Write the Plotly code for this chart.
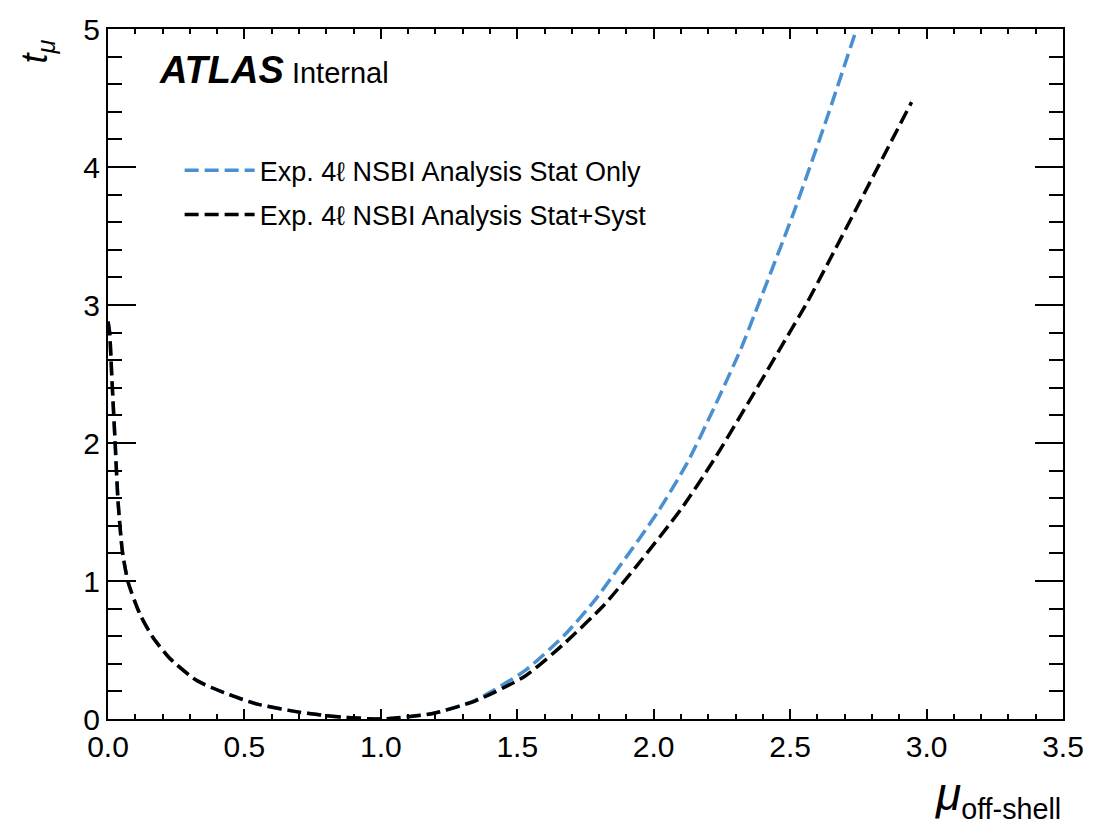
import plotly.graph_objects as go

# ---- data ----
mu_stat = [0.0, 0.006, 0.013, 0.019, 0.025, 0.037, 0.053, 0.074, 0.117, 0.165, 0.226,
           0.324, 0.433, 0.543, 0.70, 0.82, 1.0, 1.19, 1.345, 1.528, 1.674, 1.78,
           1.869, 2.015, 2.124, 2.22, 2.319, 2.367, 2.513, 2.634, 2.74]
t_stat = [2.88, 2.8, 2.52, 2.28, 2.05, 1.57, 1.21, 0.99, 0.76, 0.59, 0.44,
          0.28, 0.185, 0.11, 0.05, 0.02, 0.0, 0.04, 0.136, 0.35, 0.61, 0.85,
          1.09, 1.50, 1.86, 2.25, 2.68, 2.92, 3.67, 4.35, 4.98]

mu_syst = [0.0, 0.006, 0.013, 0.019, 0.025, 0.037, 0.053, 0.074, 0.117, 0.165, 0.226,
           0.324, 0.433, 0.543, 0.70, 0.82, 1.0, 1.19, 1.345, 1.528, 1.674, 1.82,
           1.94, 2.10, 2.22, 2.343, 2.465, 2.56, 2.647, 2.793, 2.945]
t_syst = [2.88, 2.8, 2.52, 2.28, 2.05, 1.57, 1.21, 0.99, 0.76, 0.59, 0.44,
          0.28, 0.185, 0.11, 0.05, 0.02, 0.0, 0.04, 0.13, 0.31, 0.55, 0.83,
          1.115, 1.52, 1.876, 2.28, 2.69, 3.01, 3.335, 3.89, 4.47]

names = ["Exp. 4ℓ NSBI Analysis Stat Only", "Exp. 4ℓ NSBI Analysis Stat+Syst"]
colors = ["#4a90d0", "#000000"]

x_ticks = [0.0, 0.5, 1.0, 1.5, 2.0, 2.5, 3.0, 3.5]
x_ticklabels = ["0.0", "0.5", "1.0", "1.5", "2.0", "2.5", "3.0", "3.5"]
y_ticks = [0, 1, 2, 3, 4, 5]
y_ticklabels = ["0", "1", "2", "3", "4", "5"]

FONT = "Liberation Sans, Arial, Helvetica, sans-serif"

fig = go.Figure()
for i, (xs, ys) in enumerate([(mu_stat, t_stat), (mu_syst, t_syst)]):
    fig.add_trace(go.Scatter(
        x=xs, y=ys, mode="lines", name=names[i], legendgroup=f"g{i}",
        line=dict(color=colors[i], width=3.5, dash="14px,6px", shape="spline", smoothing=0.6),
    ))

axis_common = dict(
    showline=True, linecolor="black", linewidth=2, mirror="allticks",
    ticks="inside", tickcolor="black", tickwidth=1.5,
    showgrid=False, zeroline=False,
    tickfont=dict(family=FONT, size=30, color="black"),
)

fig.update_xaxes(range=[0, 3.5], tickvals=x_ticks, ticktext=x_ticklabels, ticklen=10,
                 minor=dict(dtick=0.1, ticks="inside", ticklen=5, tickcolor="black", tickwidth=1.5, showgrid=False),
                 **axis_common)
fig.update_yaxes(range=[0, 5], tickvals=y_ticks, ticktext=y_ticklabels, ticklen=28,
                 minor=dict(dtick=0.2, ticks="inside", ticklen=14, tickcolor="black", tickwidth=1.5, showgrid=False),
                 **axis_common)

fig.update_layout(
    width=1096, height=822,
    margin=dict(l=108, r=29, t=20, b=103),
    paper_bgcolor="white", plot_bgcolor="white",
    showlegend=True,
    legend=dict(x=0.075, y=0.83, xanchor="left", yanchor="top",
                font=dict(family=FONT, size=27, color="black"),
                bgcolor="rgba(0,0,0,0)", traceorder="grouped", tracegroupgap=6,
                itemwidth=70),
    annotations=[
        dict(text="<b><i>ATLAS</i></b><span style='font-size:29px'> Internal</span>",
             xref="paper", yref="paper", x=0.051, y=0.94, xanchor="left", yanchor="middle",
             showarrow=False, font=dict(family=FONT, size=38, color="black")),
        dict(text="<i>t</i><sub><i>μ</i></sub>", textangle=-90,
             xref="paper", yref="paper", x=-0.074, y=0.968, xanchor="center", yanchor="middle",
             showarrow=False, font=dict(family=FONT, size=36, color="black")),
        dict(text="<span style='font-size:46px'><i>μ</i></span><sub>off-shell</sub>",
             xref="paper", yref="paper", x=1.0, y=-0.112, xanchor="right", yanchor="middle",
             showarrow=False, font=dict(family=FONT, size=41, color="black")),
    ],
)

fig.write_html("out.html")
